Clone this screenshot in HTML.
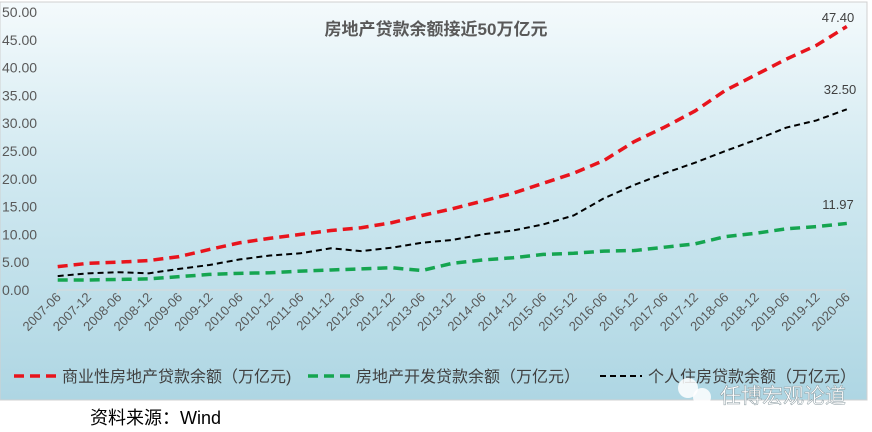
<!DOCTYPE html>
<html><head><meta charset="utf-8"><style>
html,body{margin:0;padding:0;background:#fff;width:872px;height:432px;overflow:hidden}
svg{display:block}
text{font-family:"Liberation Sans","Noto Sans CJK SC",sans-serif}
</style></head><body>
<svg id="s" width="872" height="432" xmlns="http://www.w3.org/2000/svg">
<defs><linearGradient id="g" x1="0" y1="0" x2="0" y2="1">
<stop offset="0" stop-color="#f4fafc"/><stop offset="0.45" stop-color="#cfe8f0"/><stop offset="1" stop-color="#aed6e3"/></linearGradient></defs>
<rect x="0" y="2" width="867" height="398" fill="url(#g)" stroke="#d0d0d0" stroke-width="1"/>
<text x="436" y="35" text-anchor="middle" font-size="17" font-weight="bold" fill="#595959" font-family="Liberation Serif,Noto Serif CJK SC,serif">房地产贷款余额接近50万亿元</text>
<g id="ax" font-size="14" fill="#595959"></g>
<line x1="57" y1="290" x2="846" y2="290" stroke="#d9d9d9"/>
<g id="lines"></g>
<text x="838" y="22" font-size="13" fill="#404040" text-anchor="middle">47.40</text>
<text x="840" y="94" font-size="13" fill="#404040" text-anchor="middle">32.50</text>
<text x="838" y="209" font-size="13" fill="#404040" text-anchor="middle">11.97</text>
<g font-size="16" fill="#404040">
<line x1="14" y1="376" x2="56" y2="376" stroke="#e8141c" stroke-width="3.5" stroke-dasharray="10,6"/>
<text x="62" y="382">商业性房地产贷款余额（万亿元)</text>
<line x1="308" y1="376" x2="350" y2="376" stroke="#15a550" stroke-width="3.5" stroke-dasharray="10,6"/>
<text x="356" y="382">房地产开发贷款余额（万亿元）</text>
<line x1="600" y1="376" x2="642" y2="376" stroke="#000" stroke-width="2" stroke-dasharray="6,4"/>
<text x="648" y="382">个人住房贷款余额（万亿元）</text>
</g>
<circle cx="688" cy="388" r="10" fill="#fff" opacity="0.85"/>
<circle cx="702" cy="397" r="9" fill="#fff" opacity="0.85"/>
<text x="720" y="403" font-size="21" fill="#fff" stroke="#8a9aa0" stroke-width="0.5">任博宏观论道</text>
<text x="90" y="424" font-size="18" fill="#000">资料来源：Wind</text>
</svg>
<script>
var s="http://www.w3.org/2000/svg";
function el(t,a,p){var e=document.createElementNS(s,t);for(var k in a)e.setAttribute(k,a[k]);if(p)p.appendChild(e);return e;}
var ax=document.getElementById('ax'),L=document.getElementById('lines');
function Y(v){return 290-v*5.56;}
for(var i=0;i<=10;i++){var t=el('text',{x:2,y:Y(i*5)+5},ax);t.textContent=(i*5).toFixed(2);}
var labs=[];for(var y=2007;y<=2020;y++){labs.push(y+'-06');if(y<2020)labs.push(y+'-12');}
function X(i){return 57.7+30.35*i;}
labs.forEach(function(l,i){var x=X(i);el('line',{x1:x,y1:290,x2:x,y2:294,stroke:'#d9d9d9'},ax);
var t=el('text',{x:x+4,y:298,'text-anchor':'end','font-size':13,transform:'rotate(-45 '+(x+4)+' 298)'},ax);t.textContent=l;});
var red=[4.2,4.8,5.0,5.3,6.0,7.3,8.5,9.3,10.0,10.7,11.2,12.1,13.4,14.6,16.0,17.4,19.2,21.0,23.3,26.7,29.3,32.2,35.9,38.7,41.5,44.0,47.4];
var blk=[2.5,3.0,3.2,3.0,3.8,4.5,5.5,6.2,6.6,7.5,7.0,7.6,8.5,9.0,10.0,10.7,11.8,13.4,16.5,18.9,21.0,22.9,25.0,27.0,29.2,30.5,32.5];
var grn=[1.8,1.8,1.9,2.0,2.4,2.8,3.0,3.1,3.4,3.6,3.8,4.0,3.5,4.8,5.4,5.8,6.4,6.6,7.0,7.1,7.7,8.3,9.6,10.2,11.0,11.4,11.97];
function pl(d,c,w,da){el('polyline',{points:d.map(function(v,i){return X(i)+','+Y(v)}).join(' '),fill:'none',stroke:c,'stroke-width':w,'stroke-dasharray':da},L);}
pl(grn,'#15a550',3.5,'10,6');pl(blk,'#000',2,'6,4');pl(red,'#e8141c',3.5,'10,6');
</script>
</body></html>
